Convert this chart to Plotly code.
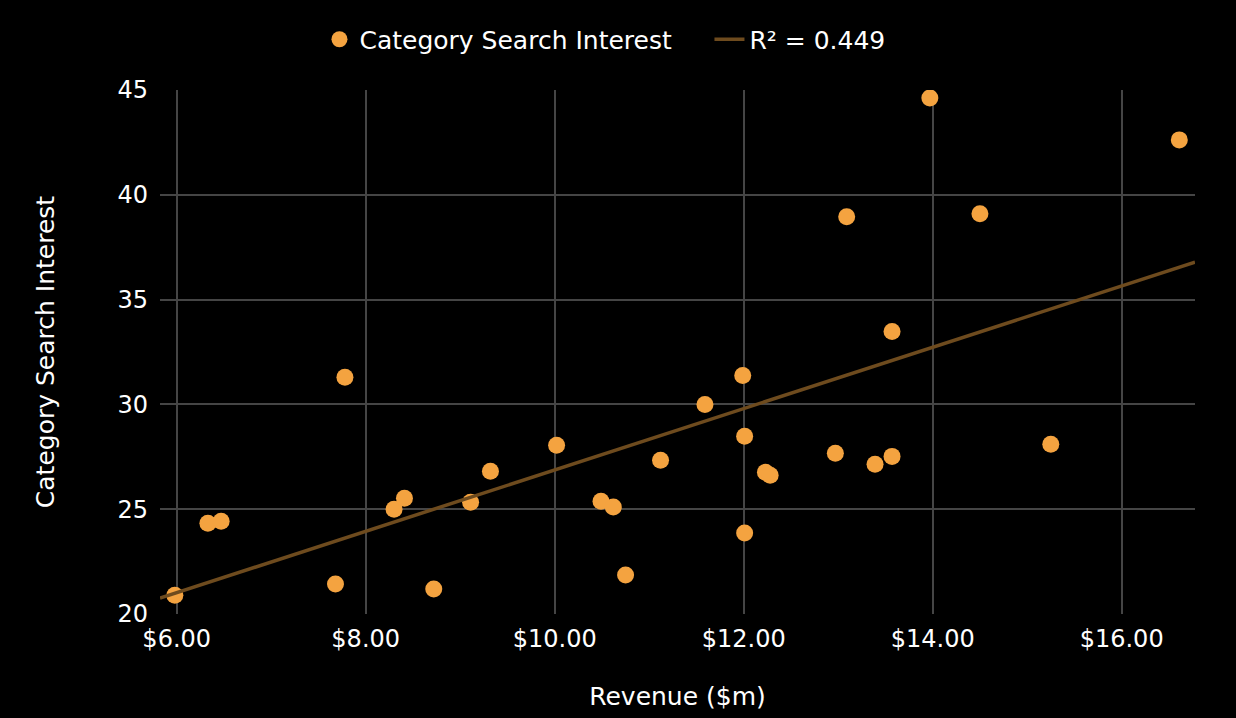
import numpy as np
import plotly.graph_objects as go

# Data
revenue = [5.98, 6.33, 6.47, 7.68, 7.78, 8.30, 8.41, 8.72, 9.11, 9.32,
           10.02, 10.49, 10.62, 10.75, 11.12, 11.59, 11.99, 12.01, 12.01, 12.23,
           12.28, 12.97, 13.09, 13.39, 13.57, 13.57, 13.97, 14.50, 15.25, 16.61]
search_interest = [20.9, 24.33, 24.43, 21.43, 31.29, 25.0, 25.52, 21.19, 25.33, 26.81,
                   28.05, 25.38, 25.10, 21.86, 27.33, 30.0, 31.38, 28.48, 23.86, 26.76,
                   26.62, 27.67, 38.95, 27.14, 33.48, 27.52, 44.62, 39.10, 28.10, 42.62]
series_name = "Category Search Interest"
trend_label = "R² = 0.449"
x_title = "Revenue ($m)"
y_title = "Category Search Interest"

x_range = [5.823, 16.776]
y_range = [20, 45]

# Linear trend line by least squares
slope, intercept = np.polyfit(revenue, search_interest, 1)
trend_x = np.array(x_range)
trend_y = slope * trend_x + intercept

FONT = "DejaVu Sans, Verdana, sans-serif"
ORANGE = "#F4A340"
TREND = "#6E4B1E"
GRID = "#454545"

fig = go.Figure()
fig.add_trace(go.Scatter(
    x=revenue, y=search_interest, mode="markers", name=series_name,
    marker=dict(color=ORANGE, size=17, line=dict(width=0)),
))
fig.add_trace(go.Scatter(
    x=trend_x, y=trend_y, mode="lines", name=trend_label,
    line=dict(color=TREND, width=3.5),
))

fig.update_layout(
    width=1236, height=718,
    paper_bgcolor="black", plot_bgcolor="black",
    font=dict(family=FONT, color="white", size=24),
    margin=dict(l=160, r=41, t=89.5, b=98),
    showlegend=True,
    legend=dict(orientation="h", xref="container", yref="container",
                x=0.574, xanchor="center", y=0.945, yanchor="middle",
                font=dict(size=25), bgcolor="rgba(0,0,0,0)", itemwidth=30,
                entrywidth=345),
    xaxis=dict(range=x_range, tick0=6, dtick=2, tickprefix="$", tickformat=".2f",
               showgrid=True, gridcolor=GRID, gridwidth=1.5, zeroline=False,
               showline=False, ticks="", ticklabelstandoff=8,
               tickfont=dict(size=24),
               title=dict(text=x_title, standoff=35, font=dict(size=25))),
    yaxis=dict(range=y_range, tick0=20, dtick=5,
               showgrid=True, gridcolor=GRID, gridwidth=1.5, zeroline=False,
               showline=False, ticks="", ticklabelstandoff=11,
               tickfont=dict(size=24),
               title=dict(text=y_title, standoff=55, font=dict(size=25))),
)
fig.write_html(
    "out.html",
    config={"displayModeBar": False},
    post_script="document.body.style.margin='0';document.body.style.background='black';",
)
